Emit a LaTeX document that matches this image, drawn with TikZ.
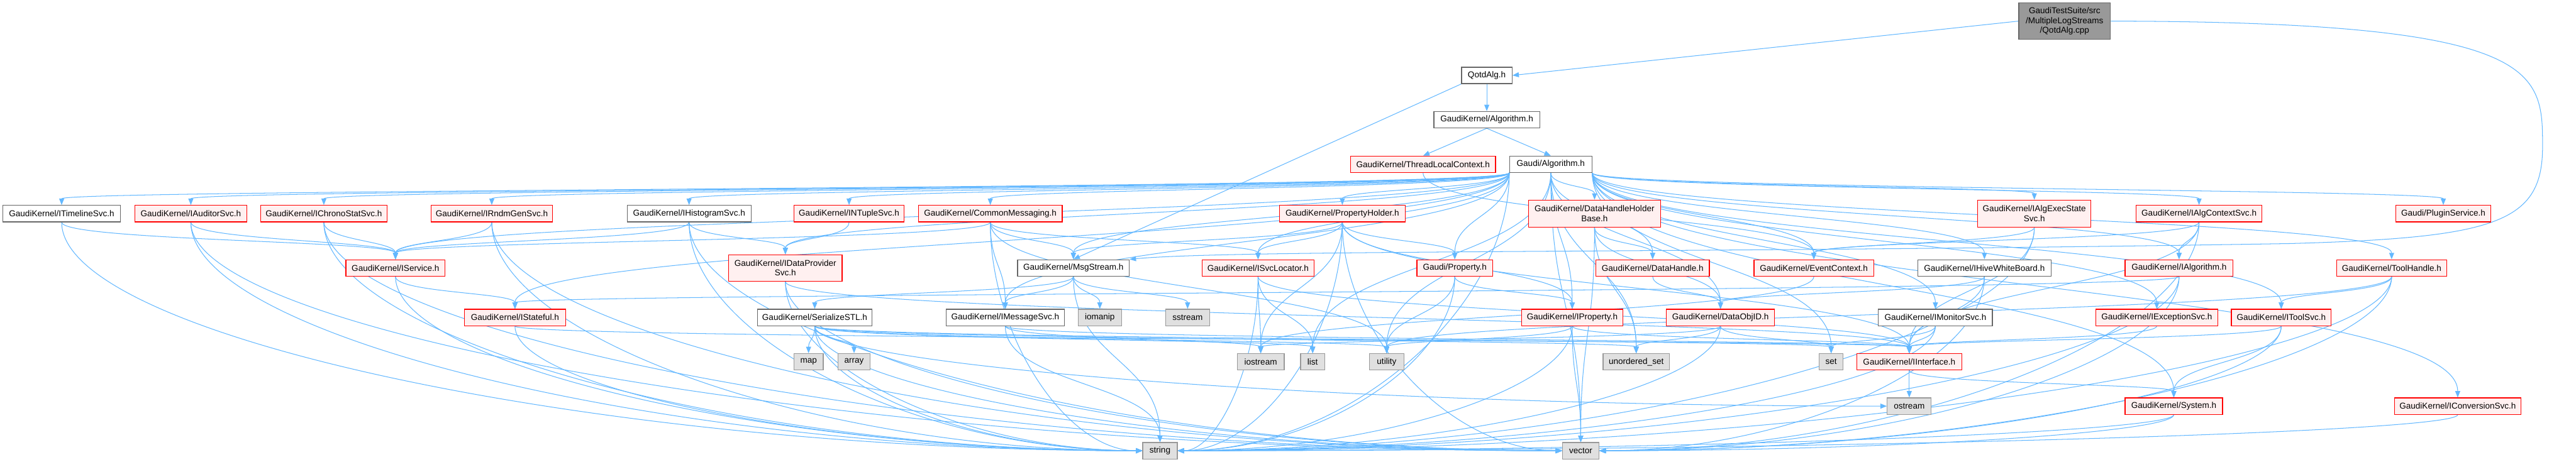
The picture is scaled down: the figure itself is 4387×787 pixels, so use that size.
\documentclass[tikz,border=0pt]{standalone}
\usepackage{fontspec}
\setmainfont{Liberation Sans}
\usetikzlibrary{arrows.meta,calc}
\definecolor{edgec}{HTML}{63B8FF}
\definecolor{redfill}{HTML}{FFF0F0}
\definecolor{stdfill}{HTML}{E0E0E0}
\definecolor{stdline}{HTML}{999999}
\definecolor{grayline}{HTML}{666666}
\definecolor{cppfill}{HTML}{999999}
\pgfdeclarelayer{edgelayer}
\pgfsetlayers{edgelayer,main}
\tikzset{
  box/.style={rectangle, inner sep=0pt, minimum height=28pt, align=center, line width=1.3pt, font=\fontsize{14.5}{17}\selectfont},
  rbox/.style={box, draw=red, fill=redfill},
  gbox/.style={box, draw=grayline, fill=white},
  sbox/.style={box, draw=stdline, fill=stdfill},
  cbox/.style={box, draw=grayline, fill=cppfill},
  e/.style={draw=edgec, line width=1.1pt, -{Triangle[length=11pt,width=8.5pt]}}
}
\newcommand\EdgeD[2]{\path ($(#1)!0.5!(#2.north)$) coordinate (m); \draw[e] (#1) .. controls (#1 |- m) and (#2.north |- m) .. (#2.north);}
\newcommand\EdgeL[2]{\path ($(#1)!0.5!(#2.west)$) coordinate (m); \draw[e] (#1) .. controls (#1 |- m) and (m |- #2.west) .. (#2.west);}
\newcommand\EdgeR[2]{\path ($(#1)!0.5!(#2.east)$) coordinate (m); \draw[e] (#1) .. controls (#1 |- m) and (m |- #2.east) .. (#2.east);}
\begin{document}
\begin{tikzpicture}[x=1pt,y=-1pt]
\begin{pgfonlayer}{edgelayer}
\fill[white] (0,0) rectangle (4387,787);
\end{pgfonlayer}
\useasboundingbox (0,0) rectangle (4387,787);
% rank 0-3
\node[cbox, minimum width=156pt, minimum height=62pt] (cpp) at (3516,36) {GaudiTestSuite/src\\/MultipleLogStreams\\/QotdAlg.cpp};
\node[gbox, minimum width=86pt] (qotdh) at (2532,128.5) {QotdAlg.h};
\node[gbox, minimum width=180pt] (algh) at (2532,204) {GaudiKernel/Algorithm.h};
\node[rbox, minimum width=247pt] (tlc) at (2423.5,280) {GaudiKernel/ThreadLocalContext.h};
\node[gbox, minimum width=140pt] (galg) at (2641,280) {Gaudi/Algorithm.h};
% rank 4
\node[gbox, minimum width=200pt] (timeline) at (105,364) {GaudiKernel/ITimelineSvc.h};
\node[rbox, minimum width=190pt] (auditor) at (325,364) {GaudiKernel/IAuditorSvc.h};
\node[rbox, minimum width=215pt] (chrono) at (551.5,364) {GaudiKernel/IChronoStatSvc.h};
\node[rbox, minimum width=207pt] (rndm) at (837.5,364) {GaudiKernel/IRndmGenSvc.h};
\node[gbox, minimum width=211pt] (histo) at (1173.5,364) {GaudiKernel/IHistogramSvc.h};
\node[rbox, minimum width=188pt] (ntuple) at (1446,364) {GaudiKernel/INTupleSvc.h};
\node[rbox, minimum width=245pt] (commsg) at (1686.5,364) {GaudiKernel/CommonMessaging.h};
\node[rbox, minimum width=214pt] (propholder) at (2286,364) {GaudiKernel/PropertyHolder.h};
\node[rbox, minimum width=225pt, minimum height=46pt] (dhhb) at (2715.5,364) {GaudiKernel/DataHandleHolder\\Base.h};
\node[rbox, minimum width=193pt, minimum height=46pt] (algexec) at (3464.5,364) {GaudiKernel/IAlgExecState\\Svc.h};
\node[rbox, minimum width=214pt] (algctx) at (3745,364) {GaudiKernel/IAlgContextSvc.h};
\node[rbox, minimum width=162pt] (plugin) at (4161,364) {Gaudi/PluginService.h};
% rank 5
\node[rbox, minimum width=169pt] (iservice) at (673.5,456.5) {GaudiKernel/IService.h};
\node[rbox, minimum width=193pt, minimum height=45pt] (idps) at (1337.5,456.5) {GaudiKernel/IDataProvider\\Svc.h};
\node[gbox, minimum width=190pt] (msgstream) at (1828,456.5) {GaudiKernel/MsgStream.h};
\node[rbox, minimum width=191pt] (isvcloc) at (2142.5,456.5) {GaudiKernel/ISvcLocator.h};
\node[rbox, minimum width=129pt] (gprop) at (2477.5,456.5) {Gaudi/Property.h};
\node[rbox, minimum width=193pt] (datahandle) at (2814.5,456.5) {GaudiKernel/DataHandle.h};
\node[rbox, minimum width=204pt] (evctx) at (3089,456.5) {GaudiKernel/EventContext.h};
\node[gbox, minimum width=227pt] (hivewb) at (3379.5,456.5) {GaudiKernel/IHiveWhiteBoard.h};
\node[rbox, minimum width=184pt] (ialg) at (3711,456.5) {GaudiKernel/IAlgorithm.h};
\node[rbox, minimum width=188pt] (toolhandle) at (4073,456.5) {GaudiKernel/ToolHandle.h};
% rank 6
\node[rbox, minimum width=172pt] (istateful) at (877,541) {GaudiKernel/IStateful.h};
\node[gbox, minimum width=195pt] (serialize) at (1387.5,541) {GaudiKernel/SerializeSTL.h};
\node[gbox, minimum width=202pt] (imsgsvc) at (1712,541) {GaudiKernel/IMessageSvc.h};
\node[sbox, minimum width=74pt] (iomanip) at (1873,541) {iomanip};
\node[sbox, minimum width=75pt] (sstream) at (2022.5,541) {sstream};
\node[rbox, minimum width=173pt] (iprop) at (2677.5,541) {GaudiKernel/IProperty.h};
\node[rbox, minimum width=184pt] (dataobjid) at (2930,541) {GaudiKernel/DataObjID.h};
\node[gbox, minimum width=194pt] (imonitor) at (3296,541) {GaudiKernel/IMonitorSvc.h};
\node[rbox, minimum width=208pt] (iexc) at (3673,541) {GaudiKernel/IExceptionSvc.h};
\node[rbox, minimum width=170pt] (itoolsvc) at (3885,541) {GaudiKernel/IToolSvc.h};
% rank 7
\node[sbox, minimum width=50pt] (map) at (1377,616.5) {map};
\node[sbox, minimum width=55pt] (array) at (1454.5,616.5) {array};
\node[sbox, minimum width=80pt] (iostream) at (2147,616.5) {iostream};
\node[sbox, minimum width=41pt] (list) at (2235.5,616.5) {list};
\node[sbox, minimum width=59pt] (utility) at (2361.5,616.5) {utility};
\node[sbox, minimum width=113pt] (uset) at (2786.5,616.5) {unordered\_set};
\node[sbox, minimum width=41pt] (set) at (3118.5,616.5) {set};
\node[rbox, minimum width=179pt] (iinterface) at (3251.5,616.5) {GaudiKernel/IInterface.h};
% rank 8
\node[sbox, minimum width=75pt] (ostream) at (3251.5,692) {ostream};
\node[rbox, minimum width=166pt] (system) at (3702,692) {GaudiKernel/System.h};
\node[rbox, minimum width=215pt] (iconv) at (4185.5,692) {GaudiKernel/IConversionSvc.h};
% rank 9
\node[sbox, minimum width=59pt] (string) at (1975.5,768) {string};
\node[sbox, minimum width=62pt] (vector) at (2692,768) {vector};

\begin{pgfonlayer}{edgelayer}
% ---- edges ----
\draw[e] (cpp.west) -- (qotdh.east);
\draw[e] (cpp.east) .. controls (4330,37) and (4330,120) .. (4330,250) .. controls (4330,380) and (4250,405) .. (3900,415) .. controls (2900,432) and (2100,425) .. (msgstream.north east);
\draw[e] (qotdh.south) -- (algh.north);
\draw[e] (qotdh.south west) -- (msgstream.north);
\draw[e] (algh.south) -- (tlc.north);
\draw[e] (algh.south) -- (galg.north);
\EdgeD{tlc.south}{evctx}
% Gaudi/Algorithm.h
\EdgeD{galg.south west}{timeline}
\EdgeD{galg.south west}{auditor}
\EdgeD{galg.south west}{chrono}
\EdgeD{galg.south west}{rndm}
\EdgeD{galg.south west}{histo}
\EdgeD{galg.south west}{ntuple}
\EdgeD{galg.south west}{commsg}
\EdgeD{galg.south west}{propholder}
\EdgeD{galg.south west}{iservice}
\EdgeD{galg.south west}{idps}
\EdgeD{galg.south west}{msgstream}
\EdgeD{galg.south west}{isvcloc}
\EdgeD{galg.south west}{gprop}
\EdgeD{galg.south west}{istateful}
\EdgeD{galg.south west}{imsgsvc}
\EdgeR{galg.south west}{string}
\EdgeD{galg.south}{dhhb}
\EdgeD{galg.south}{datahandle}
\EdgeD{galg.south}{iprop}
\EdgeD{galg.south}{dataobjid}
\EdgeD{galg.south}{uset}
\EdgeD{galg.south}{vector}
\EdgeD{galg.south}{list}
\EdgeD{galg.south}{utility}
\EdgeD{galg.south east}{algexec}
\EdgeD{galg.south east}{algctx}
\EdgeD{galg.south east}{plugin}
\EdgeD{galg.south east}{evctx}
\EdgeD{galg.south east}{hivewb}
\EdgeD{galg.south east}{ialg}
\EdgeD{galg.south east}{toolhandle}
\EdgeD{galg.south east}{imonitor}
\EdgeD{galg.south east}{iexc}
\EdgeD{galg.south east}{itoolsvc}
\EdgeD{galg.south east}{system}
\EdgeD{galg.south east}{iconv}
\EdgeD{galg.south east}{set}
% rank 4 sources
\EdgeD{timeline.south}{iservice}
\EdgeL{timeline.south}{string}
\EdgeD{auditor.south}{iservice}
\EdgeL{auditor.south}{string}
\EdgeL{auditor.south}{vector}
\EdgeD{chrono.south}{iservice}
\EdgeL{chrono.south}{string}
\EdgeL{chrono.south}{vector}
\EdgeD{rndm.south}{iservice}
\EdgeL{rndm.south}{string}
\EdgeL{rndm.south}{vector}
\EdgeD{histo.south}{idps}
\EdgeD{histo.south}{iservice}
\EdgeL{histo.south}{string}
\EdgeL{histo.south}{vector}
\EdgeD{ntuple.south}{idps}
\EdgeD{commsg.south}{iservice}
\EdgeD{commsg.south}{msgstream}
\EdgeD{commsg.south}{imsgsvc}
\EdgeD{commsg.south}{isvcloc}
\EdgeD{commsg.south}{utility}
\EdgeL{commsg.south}{string}
\EdgeD{propholder.south}{gprop}
\EdgeD{propholder.south}{iprop}
\EdgeD{propholder.south}{isvcloc}
\EdgeD{propholder.south}{msgstream}
\EdgeD{propholder.south}{iostream}
\EdgeR{propholder.south}{string}
\EdgeL{propholder.south}{vector}
\EdgeD{propholder.south}{iinterface}
\EdgeD{dhhb.south}{datahandle}
\EdgeD{dhhb.south}{dataobjid}
\EdgeD{dhhb.south}{uset}
\EdgeD{dhhb.south}{vector}
\EdgeD{algexec.south}{evctx}
\EdgeD{algexec.south}{iinterface}
\EdgeR{algexec.south}{string}
\EdgeD{algctx.south}{ialg}
\EdgeD{algctx.south}{iinterface}
\EdgeR{algctx.south}{vector}
\EdgeD{algctx.south}{evctx}
% rank 5 sources
\EdgeD{iservice.south}{istateful}
\EdgeL{iservice.south}{string}
\EdgeD{idps.south}{iinterface}
\EdgeL{idps.south}{string}
\EdgeL{idps.south}{vector}
\EdgeD{msgstream.south}{serialize}
\EdgeD{msgstream.south}{imsgsvc}
\EdgeD{msgstream.south}{iomanip}
\EdgeD{msgstream.south}{sstream}
\EdgeD{msgstream.south}{string}
\EdgeD{isvcloc.south}{iostream}
\EdgeD{isvcloc.south}{list}
\EdgeR{isvcloc.south}{string}
\EdgeD{isvcloc.south}{iinterface}
\EdgeD{gprop.south}{iprop}
\EdgeD{gprop.south}{utility}
\EdgeR{gprop.south}{string}
\EdgeD{datahandle.south}{dataobjid}
\EdgeD{evctx.south}{iostream}
\EdgeD{hivewb.south}{dataobjid}
\EdgeD{hivewb.south}{iinterface}
\EdgeR{hivewb.south}{vector}
\EdgeD{ialg.south}{istateful}
\EdgeR{ialg.south}{string}
\EdgeR{ialg.south}{vector}
\EdgeD{toolhandle.south}{itoolsvc}
\EdgeD{toolhandle.south}{utility}
\EdgeR{toolhandle.south}{string}
\EdgeR{toolhandle.south}{vector}
% rank 6 sources
\EdgeD{istateful.south}{iinterface}
\EdgeL{istateful.south}{string}
\EdgeD{serialize.south}{map}
\EdgeD{serialize.south}{array}
\EdgeD{serialize.south}{list}
\EdgeD{serialize.south}{utility}
\EdgeD{serialize.south}{uset}
\EdgeD{serialize.south}{set}
\EdgeL{serialize.south}{ostream}
\EdgeL{serialize.south}{string}
\EdgeL{serialize.south}{vector}
\EdgeD{imsgsvc.south}{string}
\EdgeD{imsgsvc.south}{iostream}
\EdgeD{imsgsvc.south}{iinterface}
\EdgeD{iprop.south}{utility}
\EdgeR{iprop.south}{string}
\EdgeD{iprop.south}{vector}
\EdgeD{iprop.south}{iinterface}
\EdgeD{dataobjid.south}{uset}
\EdgeD{dataobjid.south}{iostream}
\EdgeR{dataobjid.south}{string}
\EdgeD{dataobjid.south}{set}
\EdgeD{imonitor.south}{iinterface}
\EdgeD{imonitor.south}{set}
\EdgeR{imonitor.south}{string}
\EdgeD{iexc.south}{iinterface}
\EdgeD{itoolsvc.south}{iinterface}
\EdgeD{itoolsvc.south}{system}
\EdgeR{itoolsvc.south}{vector}
% rank 7-8 sources
\EdgeD{iinterface.south}{ostream}
\EdgeD{iinterface.south}{system}
\EdgeR{system.south}{string}
\EdgeR{system.south}{vector}
\EdgeR{iconv.south}{string}
\end{pgfonlayer}
\end{tikzpicture}
\end{document}
